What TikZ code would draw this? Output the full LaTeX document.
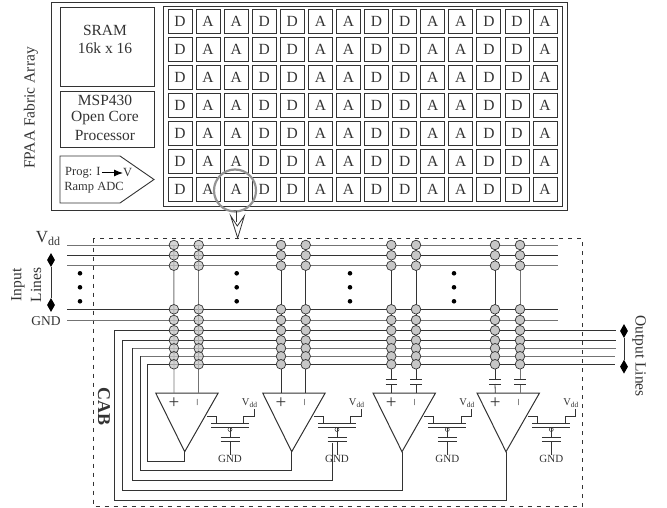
\documentclass[tikz,border=0pt]{standalone}
\usepackage{fontspec}
\setmainfont{Liberation Serif}
\usetikzlibrary{arrows.meta,shapes.geometric}
\definecolor{ln}{gray}{0.2}
\definecolor{lg}{gray}{0.45}
\definecolor{fillc}{gray}{0.78}
\newcommand{\fsz}[1]{\fontsize{#1}{#1}\selectfont}
\newcommand{\bigvdd}{\fsz{17}V\raisebox{-3pt}{\fsz{12}dd}}
\newcommand{\smvdd}{\fsz{10.5}V\raisebox{-2pt}{\fsz{7.5}dd}}
\tikzset{
  x=1pt,y=-1pt,
  box/.style={draw=ln,line width=0.9pt},
  cell/.style={draw=ln,line width=0.9pt,minimum width=24pt,minimum height=24pt,inner sep=0pt,font=\fsz{15.5},text=ln},
  lab/.style={inner sep=0pt,text=ln,font=\fsz{15.5}},
  small/.style={inner sep=0pt,text=ln,font=\fsz{12.5}},
  gnd/.style={inner sep=0pt,text=ln,font=\fsz{11}},
  wire/.style={draw=ln,line width=0.8pt},
  gwire/.style={draw=lg,line width=0.9pt},
  sw/.style={circle,draw=ln,fill=fillc,line width=0.7pt,minimum size=9.6pt,inner sep=0pt},
  swt/.style={sw,fill opacity=0.75},
  dia/.style={diamond,fill=black,inner sep=0pt,minimum width=8pt,minimum height=14pt},
  dotn/.style={circle,fill=black,inner sep=0pt,minimum size=4.6pt},
}
\begin{document}
\begin{tikzpicture}
\useasboundingbox (0,0) rectangle (667,508);
% top block
\node[box,minimum width=516pt,minimum height=207.7pt,inner sep=0pt,anchor=north west] (fpaa) at (50.5,2.3) {};
\node[box,minimum width=399pt,minimum height=199.7pt,inner sep=0pt,anchor=north west] (fabric) at (163.3,6) {};
\node[box,minimum width=94pt,minimum height=79pt,inner sep=0pt,anchor=north west] (sram) at (60,7) {};
\node[box,minimum width=94pt,minimum height=56pt,inner sep=0pt,anchor=north west] (msp) at (60,91) {};
\draw[box] (60,156) -- (120,156) -- (154,179.5) -- (120,203) -- (60,203) -- cycle;
\node[lab] (sramA) at (105,30) {SRAM};
\node[lab] (sramB) at (105,48) {16k x 16};
\node[lab] (mspA) at (105,100) {MSP430};
\node[lab] (mspB) at (105,118) {Open Core};
\node[lab] (mspC) at (105,136) {Processor};
\node[small,anchor=west] (prog) at (65,173) {Prog: I};
\node[small,anchor=west] (progV) at (123,173) {V};
\draw[-{Latex[length=9pt,width=7pt]},line width=1pt,black] (prog.east) ++(1,0) -- (progV.west);
\node[small] (ramp) at (94,187.5) {Ramp ADC};
\node[lab,rotate=90] (fabtitle) at (31,108) {FPAA Fabric Array};
\foreach \r in {0,...,6}{
  \foreach \c/\t in {0/D,1/A,2/A,3/D,4/D,5/A,6/A,7/D,8/D,9/A,10/A,11/D,12/D,13/A}{
    \node[cell] (cell-\r-\c) at ({180+28.08*\c},{21.5+28*\r}) {\t};
  }
}
\node[circle,draw=gray!85,line width=2.2pt,minimum size=42pt,inner sep=0pt] (zoomc) at (235,190.5) {};
% open arrow
\coordinate (arrowS) at (236,211);
\coordinate (arrowE) at (236,222);
\draw[wire] (arrowS) -- (arrowE);
\draw[wire,fill=white] (230.7,216) -- (237.7,238) -- (244.3,216) -- (237.3,226) -- cycle;
% CAB dashed box
\draw[dashed,draw=ln,line width=0.8pt,dash pattern=on 4pt off 5pt] (93,238.5) rectangle (582.5,506);
% lines
\foreach \n/\y/\st in {a/245/gwire,b/255.3/wire,c/265.7/gwire,d/309.3/wire,e/320/gwire}{
  \coordinate (l\n) at (67,\y);
  \coordinate (r\n) at (558,\y);
  \draw[\st] (l\n) -- (r\n);
}
% triangles and sample stages
\foreach \i/\ax in {1/184.7,2/291.7,3/402,4/506}{
  \coordinate (tl\i) at ({\ax-29},393);
  \coordinate (tr\i) at ({\ax+33.5},393);
  \coordinate (ap\i) at (\ax,451.7);
  \coordinate (pl\i) at ({\ax-10.7},393);
  \coordinate (mi\i) at ({\ax+14},393);
  \draw[box,line width=1pt] (tl\i) -- (tr\i) -- (ap\i) -- cycle;
  \node[inner sep=0pt,font=\fsz{19},text=ln] (plus\i) at ({\ax-10.7},403) {+};
  \node[inner sep=0pt,rotate=90,font=\fsz{12},text=ln] (minus\i) at ({\ax+14},402.5) {--};
  \def\sx{\ax+45.3}
  \draw[wire] ({\ax+22.3},416.7) -- ({\ax+31.3},416.7) -- ({\ax+31.3},423);
  \draw[wire] ({\sx-19},423) -- ({\sx+19},423);
  \draw[wire] ({\sx-19},427.3) -- ({\sx+19},427.3);
  \draw[wire] ({\sx+13.7},423) -- ({\sx+13.7},416.7) -- ({\sx+24},416.7) -- ({\sx+24},409);
  \node[inner sep=0pt,text=ln] (vdd\i) at ({\sx+19.5},403) {\smvdd};
  \node[circle,draw=ln,line width=0.5pt,minimum size=4pt,inner sep=0pt] (phi\i) at ({\sx},429.5) {};
  \draw[wire] (phi\i.north) -- (phi\i.south);
  \coordinate (ct\i) at ({\sx},437.7);
  \coordinate (cb\i) at ({\sx},441);
  \draw[wire] (phi\i.south) -- (ct\i);
  \draw[wire] ({\sx-9.5},437.7) -- ({\sx+9.5},437.7);
  \draw[wire] ({\sx-9.5},441) -- ({\sx+9.5},441);
  \node[gnd] (gnd\i) at ({\sx},458.5) {GND};
  \draw[wire] (cb\i) -- (gnd\i.north);
}
% output lines
\foreach \n/\y/\st/\xl/\xe in {
   f/330.3/wire/114.3/616,g/340.3/wire/122.7/616,h/348.3/gwire/132/615.5,
   i/356.3/gwire/140/615,j/364.3/wire/147.7/615}{
  \coordinate (l\n) at (\xl,\y);
  \coordinate (r\n) at (\xe,\y);
  \draw[\st] (l\n) -- (r\n);
}
% feedback
\draw[wire] (ap1) -- (184.7,461) -- (147.7,461) -- (lj);
\draw[wire] (ap2) -- (291.7,470.3) -- (140,470.3) -- (li);
\draw[wire] (332,442.7) -- (332,480) -- (132,480) -- (lh);
\draw[wire] (ap3) -- (402,490) -- (122.7,490) -- (lg);
\draw[wire] (ap4) -- (506,500.3) -- (114.3,500.3) -- (lf);
% columns
\foreach \k/\x/\st/\tg/\cp in {1/173.9/gwire/pl1/0,2/198.7/gwire/mi1/0,3/281/wire/pl2/0,4/305.7/wire/mi2/0,
                               5/391.3/wire/pl3/1,6/416/wire/mi3/1,7/495/wire/pl4/1,8/520/gwire/mi4/1}{
  \coordinate (ctop\k) at (\x,245);
  \ifnum\cp=0
    \draw[\st] (ctop\k) -- (\tg);
  \else
    \coordinate (cpa\k) at (\x,379);
    \coordinate (cpb\k) at (\x,384);
    \draw[\st] (ctop\k) -- (cpa\k);
    \draw[\st] (cpb\k) -- (\tg);
    \draw[wire] (\x-5.7,379) -- (\x+5.7,379);
    \draw[wire] (\x-5.7,384) -- (\x+5.7,384);
  \fi
}
\foreach \k/\x/\s in {1/173.9/swt,2/198.7/swt,3/281/sw,4/305.7/sw,5/391.3/sw,6/416/sw,7/495/sw,8/520/sw}{
  \foreach \y [count=\j] in {245,255.3,265.7,309.3,320,330.3,340.3,348.3,356.3,364.3}{
    \node[\s] (s\k-\j) at (\x,\y) {};
  }
}
% ellipsis dots
\foreach \x [count=\m] in {80,236.7,350,454}{
  \foreach \y [count=\q] in {273.3,287.3,301.3}{
    \node[dotn] (dot\m-\q) at (\x,\y) {};
  }
}
% labels
\node[inner sep=0pt,text=ln] (vddtop) at (48,238) {\bigvdd};
\node[gnd,font=\fsz{13.5}] (gndL) at (46,321) {GND};
\node[lab,rotate=90] (inA) at (18,285) {Input};
\node[lab,rotate=90] (inB) at (36,285) {Lines};
\node[dia] (dia1) at (51,260) {};
\node[dia] (dia2) at (51,305) {};
\draw[wire] (dia1) -- (dia2);
\node[dia] (dia3) at (624,331) {};
\node[dia] (dia4) at (624,366.7) {};
\draw[wire] (dia3) -- (dia4);
\node[lab,rotate=-90] (outL) at (639,356) {Output Lines};
\node[inner sep=0pt,rotate=-90,font=\fsz{18}\bfseries,text=ln] (cab) at (104,406.5) {CAB};
\end{tikzpicture}
\end{document}
